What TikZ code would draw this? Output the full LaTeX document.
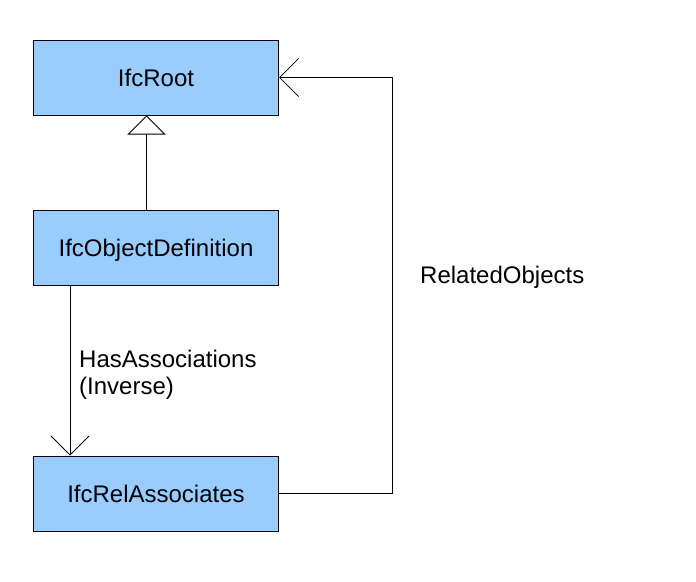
\documentclass[tikz,border=0pt]{standalone}
\usepackage{fontspec}
\setmainfont{Liberation Sans}
\usetikzlibrary{arrows.meta}
\definecolor{boxblue}{HTML}{99CCFF}
\tikzset{
  cls/.style={draw=black, fill=boxblue, line width=1pt, minimum width=245pt, minimum height=75pt, inner sep=0pt, text height=17.5pt, text depth=0pt, font=\fontsize{24}{28}\selectfont},
  conn/.style={draw=black, line width=1pt},
  lbl/.style={font=\fontsize{24}{28}\selectfont, inner sep=0pt},
  openarrow/.style={-{Straight Barb[length=19pt,width=38pt,line width=0.8pt]}},
  inherit/.style={-{Triangle[open,length=19pt,width=38pt,line width=0.8pt,fill=white]}}
}
\begin{document}
\begin{tikzpicture}[x=1pt,y=-1pt]
\useasboundingbox (0,0) rectangle (696,581);
\node[cls] (root) at (156,77.5) {IfcRoot};
\node[cls] (objdef) at (156,247.5) {IfcObjectDefinition};
\node[cls] (rel) at (156,493.5) {IfcRelAssociates};
\coordinate (corner1) at (392,493.5);
\coordinate (corner2) at (392,77.5);
\draw[conn,inherit] (objdef.north -| 146.5,0) -- (root.south -| 146.5,0);
\draw[conn,openarrow] ([xshift=37pt]objdef.south west) -- ([xshift=37pt]rel.north west);
\draw[conn,openarrow] (rel.east) -- (corner1) -- (corner2) -- (root.east);
\node[lbl, anchor=base west] (has) at (79,367.5) {HasAssociations};
\node[lbl, anchor=base west] (inv) at (79,394.5) {(Inverse)};
\node[lbl, anchor=base west] (relobj) at (420,283) {RelatedObjects};
\end{tikzpicture}
\end{document}
